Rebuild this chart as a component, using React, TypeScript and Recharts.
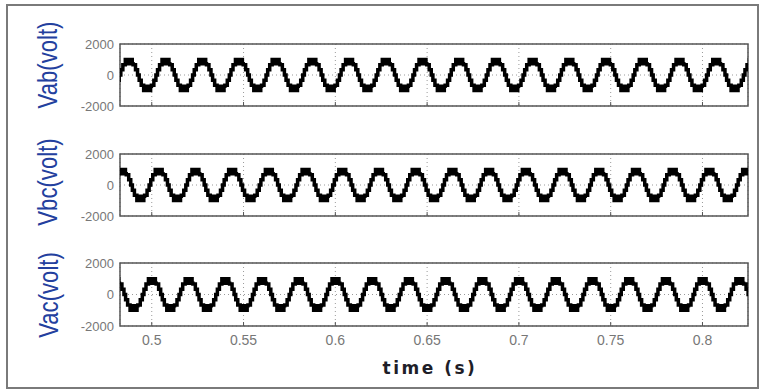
import React from 'react';
import { LineChart, Line, XAxis, YAxis, CartesianGrid, ReferenceArea } from 'recharts';

// ---- data ----
const X_DOMAIN: [number, number] = [0.4827, 0.8248];
const xTicks = [0.5, 0.55, 0.6, 0.65, 0.7, 0.75, 0.8];
const yTicks = [-2000, 0, 2000];
const PERIOD = 0.02; // 50 Hz
// one cycle of the staircase, angles (deg) from the rising zero crossing, and the level after each switch
const cycleAngles = [0, 8, 28, 52, 60, 66, 72, 78, 84, 90, 96, 102, 108, 114, 120, 128, 152, 172, 188, 208, 232, 240, 246, 252, 258, 264, 270, 276, 282, 288, 294, 300, 308, 332, 352];
const cycleLevels = [0, 333, 667, 1000, 720, 1000, 720, 1000, 720, 1000, 720, 1000, 720, 1000, 720, 667, 333, 0, -333, -667, -1000, -720, -1000, -720, -1000, -720, -1000, -720, -1000, -720, -1000, -720, -667, -333, 0];
// time of a positive peak centre for each trace
const vabPeak = 0.5077;
const vbcPeak = 0.504;
const vacPeak = 0.5003;

function buildWave(peak: number) {
  const zero = peak - PERIOD / 4;
  const pts: { t: number; v: number }[] = [];
  for (let k = -2; k <= 19; k++) {
    for (let i = 0; i < cycleAngles.length; i++) {
      const t = zero + (k + cycleAngles[i] / 360) * PERIOD;
      if (t >= 0.46 && t <= 0.84) pts.push({ t, v: cycleLevels[i] });
    }
  }
  return pts;
}

const vabData = buildWave(vabPeak);
const vbcData = buildWave(vbcPeak);
const vacData = buildWave(vacPeak);

const FONT = "'Liberation Sans', Arial, sans-serif";

function Panel({ data, plotTop, plotH, showX }: { data: { t: number; v: number }[]; plotTop: number; plotH: number; showX: boolean }) {
  const padT = 20;
  const topAxH = 2;
  const botAxH = showX ? 40 : 2;
  const padB = showX ? 50 : 20;
  const H = padT + plotH + padB;
  const margin = { top: padT - topAxH, right: 18, bottom: padB - botAxH, left: 80 };
  return (
    <div style={{ position: 'absolute', left: 0, top: plotTop - padT, width: 766, height: H }}>
      <LineChart width={766} height={H} data={data} margin={margin}>
        <CartesianGrid stroke="#9a9a9a" strokeDasharray="1 3" />
        <XAxis
          dataKey="t"
          type="number"
          domain={X_DOMAIN}
          ticks={xTicks}
          interval={0}
          allowDataOverflow
          height={botAxH}
          axisLine={false}
          tickSize={-4}
          tickMargin={13}
          tickLine={{ stroke: '#555' }}
          tick={showX ? { fontSize: 14, fill: '#777', fontFamily: FONT } : { fontSize: 1, fill: 'transparent' }}
        />
        <XAxis
          xAxisId="top"
          orientation="top"
          type="number"
          domain={X_DOMAIN}
          ticks={xTicks}
          interval={0}
          allowDataOverflow
          height={topAxH}
          axisLine={false}
          tickSize={-4}
          tickLine={{ stroke: '#555' }}
          tick={false}
        />
        <YAxis
          type="number"
          domain={[-2000, 2000]}
          ticks={yTicks}
          interval={0}
          width={40}
          axisLine={false}
          tickLine={false}
          tickSize={0}
          tickMargin={6}
          allowDataOverflow
          tick={{ fontSize: 13, fill: '#777', fontFamily: FONT }}
        />
        <Line
          type="stepAfter"
          dataKey="v"
          stroke="#000"
          strokeWidth={3.5}
          dot={false}
          isAnimationActive={false}
        />
        <ReferenceArea x1={X_DOMAIN[0]} x2={X_DOMAIN[1]} y1={-2000} y2={2000} fill="none" stroke="#555" strokeWidth={1.5} />
      </LineChart>
    </div>
  );
}

const yLabels = [
  { text: 'Vab(volt)', x: 48, y: 65 },
  { text: 'Vbc(volt)', x: 48, y: 182 },
  { text: 'Vac(volt)', x: 49, y: 295 },
];

export default function App() {
  return (
    <div style={{ position: 'absolute', left: 0, top: 0, width: 766, height: 390, background: '#fff', fontFamily: FONT }}>
      <svg width={766} height={390} style={{ position: 'absolute', left: 0, top: 0 }}>
        <rect x={7} y={5} width={751} height={383} fill="none" stroke="#7a7a7a" strokeWidth={2} />
        {yLabels.map((l) => (
          <text
            key={l.text}
            transform={`translate(${l.x},${l.y}) rotate(-90) scale(0.82,1)`}
            textAnchor="middle"
            dominantBaseline="central"
            fontSize={27}
            fill="#23409e"
            fontFamily={FONT}
          >
            {l.text}
          </text>
        ))}
        <text x={430} y={368} textAnchor="middle" dominantBaseline="central" fontSize={17} fontWeight="bold" letterSpacing={2.5} fill="#1e1e28" fontFamily="'DejaVu Sans', Verdana, sans-serif">
          time (s)
        </text>
      </svg>
      <Panel data={vabData} plotTop={44} plotH={62} showX={false} />
      <Panel data={vbcData} plotTop={154} plotH={62} showX={false} />
      <Panel data={vacData} plotTop={263} plotH={63} showX={true} />
    </div>
  );
}
